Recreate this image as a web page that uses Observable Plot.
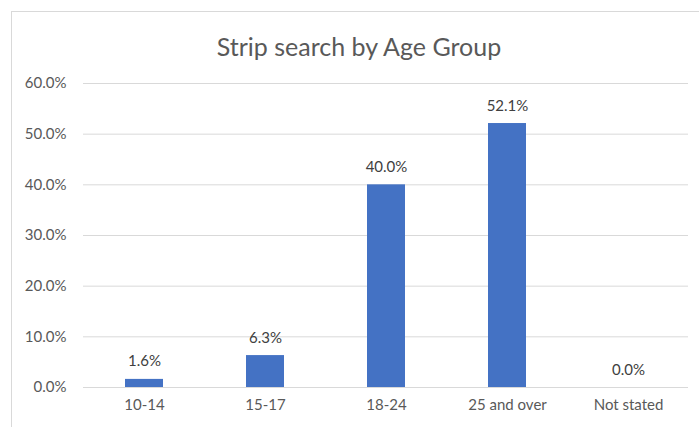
<!DOCTYPE html>
<html>
<head>
<meta charset="utf-8">
<script src="https://cdn.jsdelivr.net/npm/d3@7"></script>
<script src="https://cdn.jsdelivr.net/npm/@observablehq/plot@0.6"></script>
<style>
  html, body { margin: 0; padding: 0; background: #fff; }
  #wrap { position: relative; width: 699px; height: 427px; overflow: hidden; font-family: Lato, "Liberation Sans", sans-serif; }
  #border { position: absolute; left: 11px; top: 11px; right: -5px; bottom: -5px; border-top: 1.5px solid #d9d9d9; border-left: 1.5px solid #d9d9d9; }
  #title { position: absolute; left: 0; top: 30px; width: 718px; text-align: center; font-size: 25px; line-height: 32px; color: #595959; }
  #chart { position: absolute; left: 0; top: 0; }
</style>
</head>
<body>
<div id="wrap">
  <div id="border"></div>
  <div id="title">Strip search by Age Group</div>
  <div id="chart"></div>
</div>
<script>
const categories = ["10-14", "15-17", "18-24", "25 and over", "Not stated"];
const values = [0.016, 0.063, 0.400, 0.521, 0.000];
const yTicks = [0, 0.1, 0.2, 0.3, 0.4, 0.5, 0.6];

const data = categories.map((c, i) => ({category: c, value: values[i]}));
const fmt = d3.format(".1%");

const plot = Plot.plot({
  width: 699,
  height: 427,
  marginLeft: 83,
  marginRight: 11,
  marginTop: 83,
  marginBottom: 40,
  style: {fontFamily: "Lato, 'Liberation Sans', sans-serif", fontSize: "15px", color: "#595959", background: "transparent", overflow: "visible"},
  x: {domain: categories, paddingInner: 0.686, paddingOuter: 0.343, label: null},
  y: {domain: [0, 0.6], label: null},
  marks: [
    Plot.gridY(yTicks, {stroke: "#d9d9d9", strokeOpacity: 1, strokeWidth: 1}),
    Plot.axisY(yTicks, {tickFormat: fmt, tickSize: 0, tickPadding: 17, fill: "#595959", fontSize: 15, label: null}),
    Plot.axisX({tickSize: 0, tickPadding: 12, fill: "#595959", fontSize: 15, label: null}),
    Plot.barY(data, {x: "category", y: "value", fill: "#4472C4"}),
    Plot.text(data, {x: "category", y: "value", text: d => fmt(d.value), lineAnchor: "bottom", dy: -13, fill: "#404040", fontSize: 15})
  ]
});
document.getElementById("chart").appendChild(plot);
</script>
</body>
</html>
